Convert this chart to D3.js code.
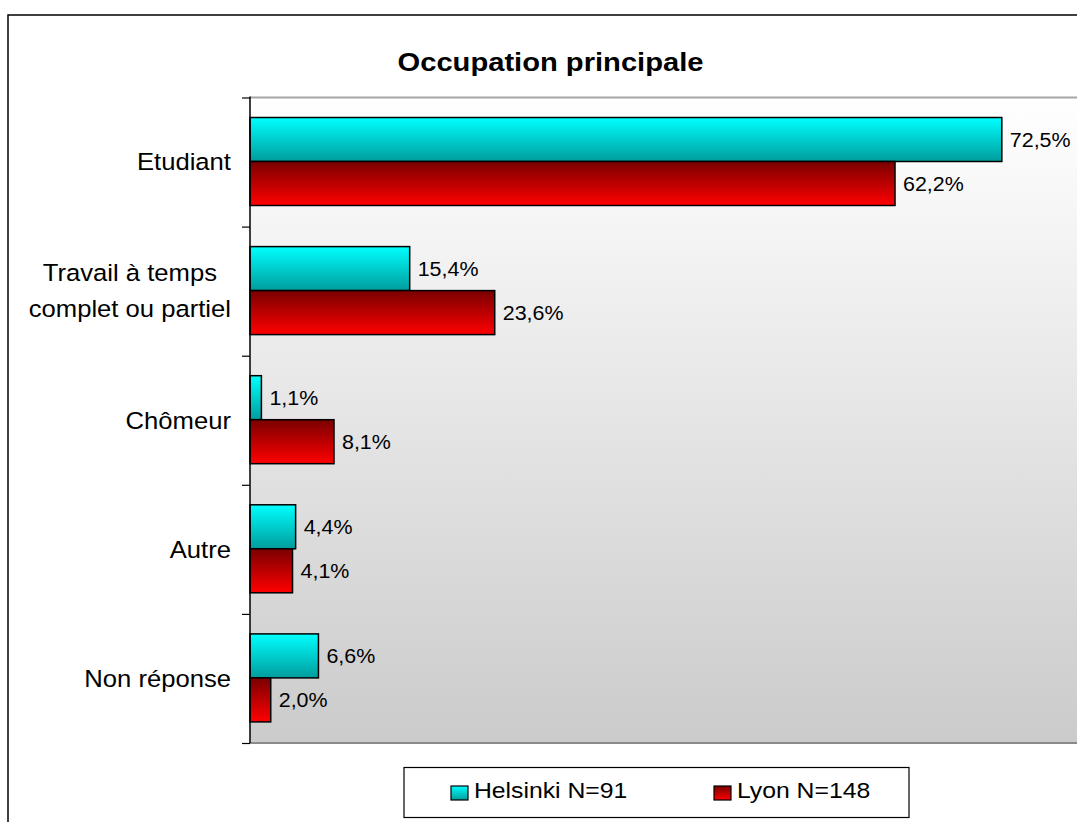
<!DOCTYPE html>
<html>
<head>
<meta charset="utf-8">
<script src="https://cdn.jsdelivr.net/npm/d3@7"></script>
<style>
html,body{margin:0;padding:0;background:#fff;overflow:hidden;}
svg{display:block;font-family:"Liberation Sans",Arial,sans-serif;}
</style>
</head>
<body>
<svg id="chart" width="1077" height="822"></svg>
<script>
const categories = ["Etudiant", "Travail à temps\ncomplet ou partiel", "Chômeur", "Autre", "Non réponse"];
const seriesNames = ["Helsinki N=91", "Lyon N=148"];
const helsinki = [72.5, 15.4, 1.1, 4.4, 6.6];
const lyon = [62.2, 23.6, 8.1, 4.1, 2.0];
const title = "Occupation principale";

const SX = 1.1; // horizontal stretch of glyphs in the reference
const svg = d3.select("#chart");
const defs = svg.append("defs");
function vgrad(id, c1, c2){
  const g = defs.append("linearGradient").attr("id", id).attr("x1",0).attr("y1",0).attr("x2",0).attr("y2",1);
  g.append("stop").attr("offset","0%").attr("stop-color",c1);
  g.append("stop").attr("offset","100%").attr("stop-color",c2);
}
vgrad("gBg", "#ffffff", "#cbcbcb");
vgrad("gCyan", "#00ffff", "#009c9c");
vgrad("gRed", "#7a0000", "#ff0000");
const fills = ["url(#gCyan)", "url(#gRed)"];

function stext(parent, x, y, str, size, anchor, weight){
  const g = parent.append("g").attr("transform", `translate(${x},${y}) scale(${SX},1)`);
  g.append("text").attr("x",0).attr("y",0).attr("text-anchor",anchor||"start")
    .attr("font-size",size).attr("font-weight",weight||"normal").attr("fill","#000").text(str);
  return g;
}

// outer frame
svg.append("rect").attr("x",8).attr("y",15).attr("width",1085).attr("height",830)
  .attr("fill","#fff").attr("stroke","#000").attr("stroke-width",1.5);

const plot = {left:250, top:97.5, right:1080, bottom:743};
const x = d3.scaleLinear().domain([0, 80]).range([plot.left, plot.left + 80*10.37]);
const y = d3.scaleBand().domain(d3.range(categories.length)).range([plot.top, plot.bottom]);
const inner = d3.scaleBand().domain([0,1]).range([20, 20 + 88]);

// plot area
svg.append("rect").attr("x",plot.left).attr("y",plot.top).attr("width",plot.right-plot.left+20).attr("height",plot.bottom-plot.top)
  .attr("fill","url(#gBg)");
svg.append("line").attr("x1",plot.left).attr("x2",1077).attr("y1",plot.top).attr("y2",plot.top)
  .attr("stroke","#a6a6a6").attr("stroke-width",2);
svg.append("line").attr("x1",plot.left).attr("x2",1077).attr("y1",plot.bottom).attr("y2",plot.bottom)
  .attr("stroke","#8a8a8a").attr("stroke-width",2);

// title
stext(svg, 550.5, 71, title, 26.5, "middle", "bold");

// bars
const series = [helsinki, lyon];
series.forEach((vals, si) => {
  const g = svg.append("g");
  g.selectAll("rect").data(vals).join("rect")
    .attr("x", x(0))
    .attr("y", (d,i) => y(i) + inner(si))
    .attr("width", d => x(d) - x(0))
    .attr("height", inner.bandwidth())
    .attr("fill", fills[si]).attr("stroke","#000").attr("stroke-width",1.5);
  vals.forEach((d, i) => {
    stext(svg, x(d) + 8, y(i) + inner(si) + inner.bandwidth()/2 + 7, d.toFixed(1).replace(".", ",") + "%", 19.5, "start");
  });
});

// y axis
const yAxisLine = d3.scaleLinear().domain([0, categories.length]).range([plot.top, plot.bottom]);
const ax = svg.append("g").attr("transform",`translate(${plot.left},0)`)
  .call(d3.axisLeft(yAxisLine).tickValues(d3.range(categories.length+1)).tickSize(8).tickFormat(""));
ax.select(".domain").attr("stroke","#000").attr("stroke-width",1.5).attr("d",`M0,${plot.top-1}V${plot.bottom}`);
ax.selectAll(".tick line").attr("stroke","#000").attr("stroke-width",1.2);

// category labels (multi-line blocks are centred, block right-aligned at 231)
const measure = svg.append("text").attr("font-size",23.3).attr("visibility","hidden");
categories.forEach((c, i) => {
  const lines = c.split("\n");
  const cy = y(i) + y.bandwidth()/2;
  if (lines.length === 1) {
    stext(svg, 231, cy + 8.3, c, 23.3, "end");
  } else {
    const widths = lines.map(ln => { measure.text(ln); return measure.node().getComputedTextLength() * SX; });
    const cx = 231 - d3.max(widths) / 2;
    lines.forEach((ln, k) => {
      stext(svg, cx, cy + (k - (lines.length-1)/2) * 36 + 8.3, ln, 23.3, "middle");
    });
  }
});
measure.remove();

// legend
const lg = svg.append("g");
lg.append("rect").attr("x",404).attr("y",767.5).attr("width",505).attr("height",50)
  .attr("fill","#fff").attr("stroke","#000").attr("stroke-width",1.2);
const legX = [451, 714];
seriesNames.forEach((n, i) => {
  lg.append("rect").attr("x",legX[i]).attr("y",786).attr("width",17).attr("height",14)
    .attr("fill",fills[i]).attr("stroke","#000").attr("stroke-width",1.2);
  stext(lg, legX[i]+23, 797.5, n, 22.5, "start");
});
</script>
</body>
</html>
